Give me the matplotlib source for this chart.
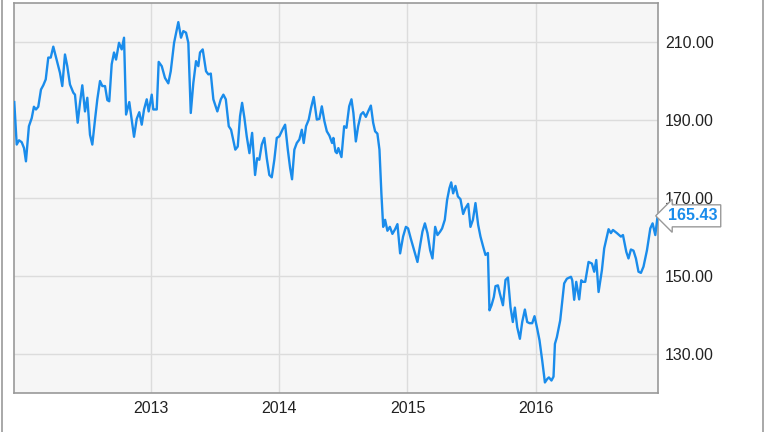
import matplotlib
matplotlib.use("Agg")
import matplotlib.pyplot as plt
from matplotlib.lines import Line2D

# Time in decimal years, closing price
years = [
    2011.937, 2011.956, 2011.974, 2011.995, 2012.013, 2012.028, 2012.051, 2012.073, 2012.090, 2012.106,
    2012.124, 2012.145, 2012.163, 2012.182, 2012.202, 2012.221, 2012.241, 2012.267, 2012.293, 2012.311,
    2012.332, 2012.350, 2012.371, 2012.397, 2012.410, 2012.431, 2012.449, 2012.467, 2012.488, 2012.506,
    2012.527, 2012.545, 2012.566, 2012.584, 2012.605, 2012.623, 2012.644, 2012.662, 2012.677, 2012.696,
    2012.714, 2012.730, 2012.753, 2012.774, 2012.792, 2012.808, 2012.833, 2012.870, 2012.891, 2012.911,
    2012.930, 2012.948, 2012.969, 2012.984, 2013.008, 2013.020, 2013.047, 2013.062, 2013.086, 2013.111,
    2013.137, 2013.156, 2013.182, 2013.215, 2013.236, 2013.254, 2013.275, 2013.293, 2013.312, 2013.332,
    2013.353, 2013.371, 2013.384, 2013.405, 2013.431, 2013.449, 2013.468, 2013.488, 2013.519, 2013.546,
    2013.566, 2013.585, 2013.608, 2013.626, 2013.659, 2013.678, 2013.696, 2013.712, 2013.730, 2013.748,
    2013.769, 2013.790, 2013.813, 2013.829, 2013.846, 2013.865, 2013.885, 2013.904, 2013.924, 2013.943,
    2013.963, 2013.982, 2014.002, 2014.029, 2014.047, 2014.068, 2014.086, 2014.101, 2014.119, 2014.138,
    2014.158, 2014.177, 2014.192, 2014.210, 2014.231, 2014.249, 2014.270, 2014.294, 2014.314, 2014.333,
    2014.353, 2014.372, 2014.392, 2014.413, 2014.423, 2014.439, 2014.450, 2014.462, 2014.486, 2014.507,
    2014.525, 2014.546, 2014.564, 2014.579, 2014.598, 2014.616, 2014.637, 2014.655, 2014.676, 2014.694,
    2014.715, 2014.733, 2014.748, 2014.766, 2014.782, 2014.797, 2014.811, 2014.826, 2014.844, 2014.863,
    2014.883, 2014.904, 2014.922, 2014.943, 2014.966, 2014.988, 2015.005, 2015.026, 2015.052, 2015.078,
    2015.099, 2015.117, 2015.136, 2015.156, 2015.177, 2015.195, 2015.216, 2015.234, 2015.255, 2015.270,
    2015.291, 2015.309, 2015.327, 2015.341, 2015.356, 2015.374, 2015.393, 2015.413, 2015.434, 2015.452,
    2015.473, 2015.491, 2015.510, 2015.530, 2015.551, 2015.569, 2015.590, 2015.608, 2015.627, 2015.639,
    2015.655, 2015.673, 2015.686, 2015.705, 2015.720, 2015.744, 2015.764, 2015.783, 2015.803, 2015.821,
    2015.837, 2015.855, 2015.876, 2015.894, 2015.915, 2015.933, 2015.951, 2015.972, 2015.990, 2016.011,
    2016.029, 2016.050, 2016.071, 2016.089, 2016.102, 2016.122, 2016.138, 2016.149, 2016.164, 2016.190,
    2016.221, 2016.242, 2016.274, 2016.284, 2016.299, 2016.315, 2016.338, 2016.354, 2016.367, 2016.385,
    2016.411, 2016.437, 2016.455, 2016.471, 2016.489, 2016.515, 2016.533, 2016.567, 2016.585, 2016.601,
    2016.632, 2016.663, 2016.679, 2016.705, 2016.722, 2016.741, 2016.761, 2016.780, 2016.800, 2016.819,
    2016.839, 2016.866, 2016.892, 2016.910, 2016.931, 2016.949,
]
prices = [
    194.6, 183.7, 184.8, 184.3, 182.8, 179.4, 188.4, 190.5, 193.4, 192.7,
    193.4, 197.8, 198.9, 200.4, 206.0, 206.0, 208.8, 205.5, 202.1, 198.7,
    206.8, 203.8, 199.1, 197.0, 196.5, 189.3, 194.4, 198.9, 192.2, 195.7,
    186.2, 183.7, 190.1, 195.3, 200.0, 198.7, 198.7, 195.1, 194.8, 204.3,
    207.3, 205.5, 209.8, 208.1, 211.1, 191.4, 194.6, 185.7, 190.3, 192.0,
    188.8, 192.7, 195.3, 192.2, 196.5, 192.7, 192.7, 204.9, 203.8, 200.8,
    199.4, 202.5, 209.8, 215.1, 211.1, 212.8, 212.4, 209.8, 191.8, 199.5,
    205.1, 203.8, 207.3, 208.1, 202.5, 201.7, 201.9, 195.3, 192.2, 195.3,
    196.5, 195.3, 188.4, 187.5, 182.4, 183.2, 191.0, 194.4, 190.5, 185.8,
    181.5, 186.7, 175.9, 180.2, 179.8, 183.7, 185.4, 180.2, 175.9, 175.3,
    179.8, 185.4, 185.8, 187.7, 188.8, 182.4, 177.7, 174.8, 182.4, 184.1,
    185.0, 187.5, 184.1, 188.4, 190.1, 193.1, 195.9, 190.1, 190.3, 193.5,
    189.7, 187.1, 186.0, 184.1, 185.4, 181.9, 181.5, 182.8, 180.5, 188.4,
    188.0, 193.5, 195.3, 191.8, 184.5, 188.4, 191.4, 192.0, 190.8, 192.2,
    193.7, 189.3, 187.1, 186.5, 182.4, 171.2, 162.6, 164.4, 161.6, 162.6,
    160.8, 162.0, 163.3, 155.8, 160.1, 162.6, 162.2, 159.6, 156.6, 153.6,
    157.9, 161.4, 163.5, 161.0, 156.6, 154.5, 162.6, 160.5, 161.4, 162.2,
    164.4, 169.5, 172.5, 174.0, 171.2, 173.1, 170.4, 169.7, 165.9, 167.4,
    168.5, 162.6, 164.4, 168.7, 163.1, 160.1, 157.5, 155.4, 155.9, 141.2,
    142.5, 144.6, 147.4, 147.6, 145.5, 142.5, 149.0, 149.6, 142.0, 138.2,
    141.9, 136.9, 133.9, 138.2, 141.4, 138.2, 137.9, 137.9, 139.7, 136.5,
    133.5, 128.3, 122.7, 123.6, 124.0, 123.2, 124.2, 132.6, 134.3, 138.6,
    148.1, 149.3, 149.8, 148.9, 143.9, 148.5, 144.0, 148.9, 148.5, 148.5,
    153.6, 153.2, 151.1, 154.1, 145.9, 151.5, 157.1, 162.0, 161.0, 161.8,
    161.0, 160.1, 160.5, 156.2, 154.5, 156.8, 156.5, 154.5, 151.1, 150.8,
    152.4, 156.6, 162.2, 163.5, 160.5, 165.43,
]
x_ticks = [2013, 2014, 2015, 2016]
x_labels = ["2013", "2014", "2015", "2016"]
y_ticks = [130, 150, 170, 190, 210]
y_labels = ["130.00", "150.00", "170.00", "190.00", "210.00"]
last_label = "165.43"

LINE = "#1a8ceb"
plt.rcParams["font.family"] = ["Liberation Sans", "DejaVu Sans"]

fig = plt.figure(figsize=(7.64, 4.32), dpi=100)
ax = fig.add_axes([13.5 / 764, 39 / 432, (658 - 13.5) / 764, (393 - 3) / 432])
ax.set_facecolor("#f6f6f6")

ax.plot(years, prices, color=LINE, lw=1.7, solid_joinstyle="round", zorder=3)

ax.set_xlim(2011.931, 2016.952)
ax.set_ylim(120, 220)
ax.set_xticks(x_ticks)
ax.set_xticklabels(x_labels)
ax.set_yticks(y_ticks)
ax.set_yticklabels(y_labels)
ax.yaxis.tick_right()
ax.tick_params(axis="both", length=0, labelsize=11.5, colors="#222222")
ax.tick_params(axis="y", pad=5)
ax.tick_params(axis="x", pad=6)
ax.grid(True, color="#dcdcdc", lw=1.0)
ax.set_axisbelow(True)
for sp in ax.spines.values():
    sp.set_color("#999999")
    sp.set_linewidth(1.2)

ax.annotate(last_label, xy=(1.0, prices[-1]), xycoords=("axes fraction", "data"),
            xytext=(7, 0), textcoords="offset points", ha="left", va="center",
            fontsize=11.5, fontweight="bold", color=LINE, zorder=5, annotation_clip=False,
            bbox=dict(boxstyle="larrow,pad=0.22", fc="white", ec="#999999", lw=1.0))

fig.add_artist(Line2D([1.5 / 764, 1.5 / 764], [0, 1], color="#999999", lw=1.2))
fig.add_artist(Line2D([762.5 / 764, 762.5 / 764], [0, 1], color="#999999", lw=1.2))

fig.savefig("out.png", dpi=100)
